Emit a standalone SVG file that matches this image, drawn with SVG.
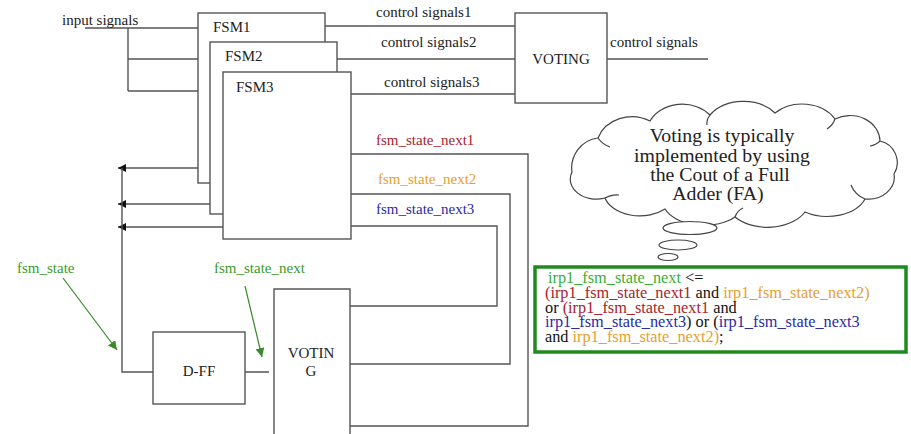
<svg xmlns="http://www.w3.org/2000/svg" width="911" height="434" viewBox="0 0 911 434">
<defs>
<style>
.ln{fill:none;stroke:#555;stroke-width:1.4}
.box{fill:#fff;stroke:#555;stroke-width:1.4}
text{font-family:'Liberation Serif','DejaVu Serif','Times New Roman',serif}
.t{font-size:15px;fill:#222}
.code{font-size:16.3px;fill:#111}
.cloudt{font-size:19.8px;fill:#222;text-anchor:middle}
.red{fill:#a8242c}.org{fill:#e8a030}.blu{fill:#2a2aa8}.grn{fill:#3a9a2a}.lgrn{fill:#38b038}
.ga{stroke:#3a8a2a;stroke-width:1.2;fill:none}
</style>
<marker id="ah" viewBox="0 0 10 10" refX="10" refY="5" markerWidth="8" markerHeight="8" markerUnits="userSpaceOnUse" orient="auto">
<path d="M0,0 L10,5 L0,10 z" fill="#111"/>
</marker>
<marker id="gh" viewBox="0 0 10 10" refX="10" refY="5" markerWidth="9" markerHeight="9" markerUnits="userSpaceOnUse" orient="auto">
<path d="M0,0 L10,5 L0,10 z" fill="#3a8a2a"/>
</marker>
</defs>
<rect width="911" height="434" fill="#fff"/>

<g id="connectors">
<path class="ln" d="M85,28 H198 M128,28 V91 M128,59 H210 M128,91 H223"/>
<path class="ln" d="M325,26 H515 M337,59 H515 M351,94 H515 M607,59 H708"/>
<path class="ln" d="M198,168 H118" marker-end="url(#ah)"/>
<path class="ln" d="M210,204 H118" marker-end="url(#ah)"/>
<path class="ln" d="M226,227 H118" marker-end="url(#ah)"/>
<path class="ln" d="M122,168 V372 H153 M245,372 H269"/>
<path class="ln" d="M351,154 H528 V426 H350"/>
<path class="ln" d="M351,194 H510 V364 H350"/>
<path class="ln" d="M351,226 H497 V306 H350"/>
<path class="ga" d="M63,278 L117,350" marker-end="url(#gh)"/>
<path class="ga" d="M245,286 L262,357" marker-end="url(#gh)"/>
</g>

<g id="fsm1"><rect class="box" x="198" y="13" width="127" height="170"/><text class="t" x="213" y="32">FSM1</text></g>
<g id="fsm2"><rect class="box" x="210" y="42" width="127" height="172"/><text class="t" x="225" y="61">FSM2</text></g>
<g id="fsm3"><rect class="box" x="223" y="72" width="128" height="167"/><text class="t" x="236" y="92">FSM3</text></g>

<g id="voting"><rect class="box" x="515" y="13" width="92" height="90"/><text class="t" x="561" y="64" text-anchor="middle">VOTING</text></g>
<g id="dff"><rect class="box" x="153" y="332" width="92" height="72"/><text class="t" x="199" y="376" text-anchor="middle">D-FF</text></g>
<g id="voting2"><path class="box" d="M274,434 V289 H350 V434"/><text class="t" x="311" y="358" text-anchor="middle">VOTIN</text><text class="t" x="311" y="376" text-anchor="middle">G</text></g>

<g id="labels">
<text class="t" x="62" y="25">input signals</text>
<text class="t" x="376" y="17">control signals1</text>
<text class="t" x="381" y="47">control signals2</text>
<text class="t" x="384" y="87">control signals3</text>
<text class="t" x="610" y="47">control signals</text>
<text class="t red" x="376" y="145">fsm_state_next1</text>
<text class="t org" x="378" y="184">fsm_state_next2</text>
<text class="t blu" x="376" y="214">fsm_state_next3</text>
<text class="t grn" x="17" y="273">fsm_state</text>
<text class="t grn" x="214" y="273">fsm_state_next</text>
</g>

<g id="cloud">
<path fill="#fff" stroke="#444" stroke-width="1.2" d="M572,172 A30,30 0 0 1 598,138 A36,32 0 0 1 650,121 A36,30 0 0 1 710,115 A40,30 0 0 1 775,113 A38,30 0 0 1 835,119 A30,26 0 0 1 880,141 A22,22 0 0 1 894,174 A26,22 0 0 1 865,199 A40,26 0 0 1 805,212 A42,28 0 0 1 735,217 A42,26 0 0 1 665,209 A36,24 0 0 1 605,198 A26,20 0 0 1 572,172 Z"/>
<path fill="none" stroke="#444" stroke-width="1.2" d="M598,138 q4,6 12,9 M710,115 q-4,5 -3,10 M835,119 q-2,6 -8,10 M880,141 q-4,4 -10,5 M865,199 q-10,-4 -14,-14 M735,217 q2,-6 8,-9 M605,198 q8,-4 14,-3"/>
<text class="cloudt" x="722" y="142">Voting is typically</text>
<text class="cloudt" x="722" y="162">implemented by using</text>
<text class="cloudt" x="720" y="181">the Cout of a Full</text>
<text class="cloudt" x="718" y="200">Adder (FA)</text>
<ellipse cx="690" cy="228" rx="27" ry="6.5" fill="#fff" stroke="#444" stroke-width="1.2"/>
<ellipse cx="678" cy="245" rx="19" ry="5" fill="#fff" stroke="#444" stroke-width="1.2"/>
<ellipse cx="668" cy="257" rx="10" ry="3.5" fill="#fff" stroke="#444" stroke-width="1.2"/>
</g>

<g id="code">
<rect x="535" y="267" width="371" height="85" fill="#fff" stroke="#1f8a1f" stroke-width="3.5"/>
<text class="code" x="548" y="283"><tspan class="lgrn">irp1_fsm_state_next</tspan> &lt;=</text>
<text class="code" x="545" y="298"><tspan class="red">(irp1_fsm_state_next1</tspan> and <tspan class="org">irp1_fsm_state_next2)</tspan></text>
<text class="code" x="545" y="313">or <tspan class="red">(irp1_fsm_state_next1</tspan> and</text>
<text class="code" x="545" y="327"><tspan class="blu">irp1_fsm_state_next3</tspan>) or (<tspan class="blu">irp1_fsm_state_next3</tspan></text>
<text class="code" x="545" y="342">and <tspan class="org">irp1_fsm_state_next2)</tspan>;</text>
</g>
</svg>
